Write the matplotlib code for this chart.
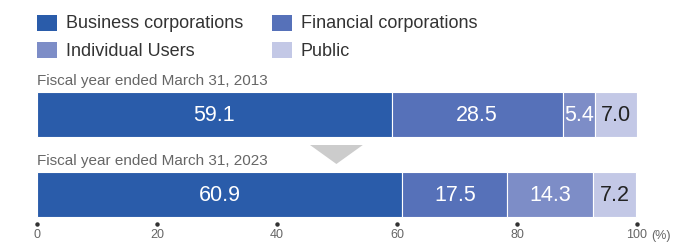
import matplotlib.pyplot as plt
from matplotlib.patches import Rectangle, Polygon

# data
categories = ["Business corporations", "Financial corporations", "Individual Users", "Public"]
years = ["Fiscal year ended March 31, 2013", "Fiscal year ended March 31, 2023"]
shares_2013 = [59.1, 28.5, 5.4, 7.0]
shares_2023 = [60.9, 17.5, 14.3, 7.2]
ticks = [0, 20, 40, 60, 80, 100]

colors = ["#2a5caa", "#5671b9", "#7d8dc7", "#c3c8e6"]
label_colors = ["white", "white", "white", "#222222"]

plt.rcParams['font.family'] = ['Liberation Sans', 'DejaVu Sans']

W, H = 674, 242
fig = plt.figure(figsize=(W / 100, H / 100), dpi=100)
# x in percent, y in pixels from top
ax = fig.add_axes([37 / W, 0, 600 / W, 1])
ax.set_xlim(0, 100)
ax.set_ylim(H, 0)
ax.axis('off')

bar_y = [114.5, 194.5]
bar_h = 45
for row, vals in enumerate([shares_2013, shares_2023]):
    left = 0
    for i, v in enumerate(vals):
        ax.barh(bar_y[row], v, left=left, height=bar_h, color=colors[i],
                edgecolor="white", linewidth=0.8)
        ax.text(left + v / 2, bar_y[row] + 1, "%.1f" % v, ha="center", va="center",
                fontsize=15.5, color=label_colors[i])
        left += v
    ax.text(0, bar_y[row] - 33.5, years[row], ha="left", va="center",
            fontsize=11, color="#666666")

# arrow between bars
tri = Polygon([(45.5, 145), (54.3, 145), (49.9, 164)], closed=True,
              color="#cccccc", lw=0)
ax.add_patch(tri)

# axis dots and labels
ax.plot(ticks, [223.5] * len(ticks), "o", color="#333333", markersize=2.2, clip_on=False)
for t in ticks:
    ax.text(t, 235.5, str(t), ha="center", va="center", fontsize=9, color="#666666")
ax.text(104, 235.5, "(%)", ha="center", va="center", fontsize=9, color="#666666")

# legend, laid out by hand
leg_x = [37, 272]
leg_y = [23, 50]
for i, name in enumerate(categories):
    x = leg_x[i % 2]
    y = leg_y[i // 2]
    fig.patches.append(Rectangle((x / W, 1 - (y + 8) / H), 20 / W, 16 / H,
                                 transform=fig.transFigure, color=colors[i], lw=0))
    fig.text((x + 29) / W, 1 - (y + 1) / H, name, ha="left", va="center",
             fontsize=13, color="#333333")

fig.savefig("out.png", dpi=100)
